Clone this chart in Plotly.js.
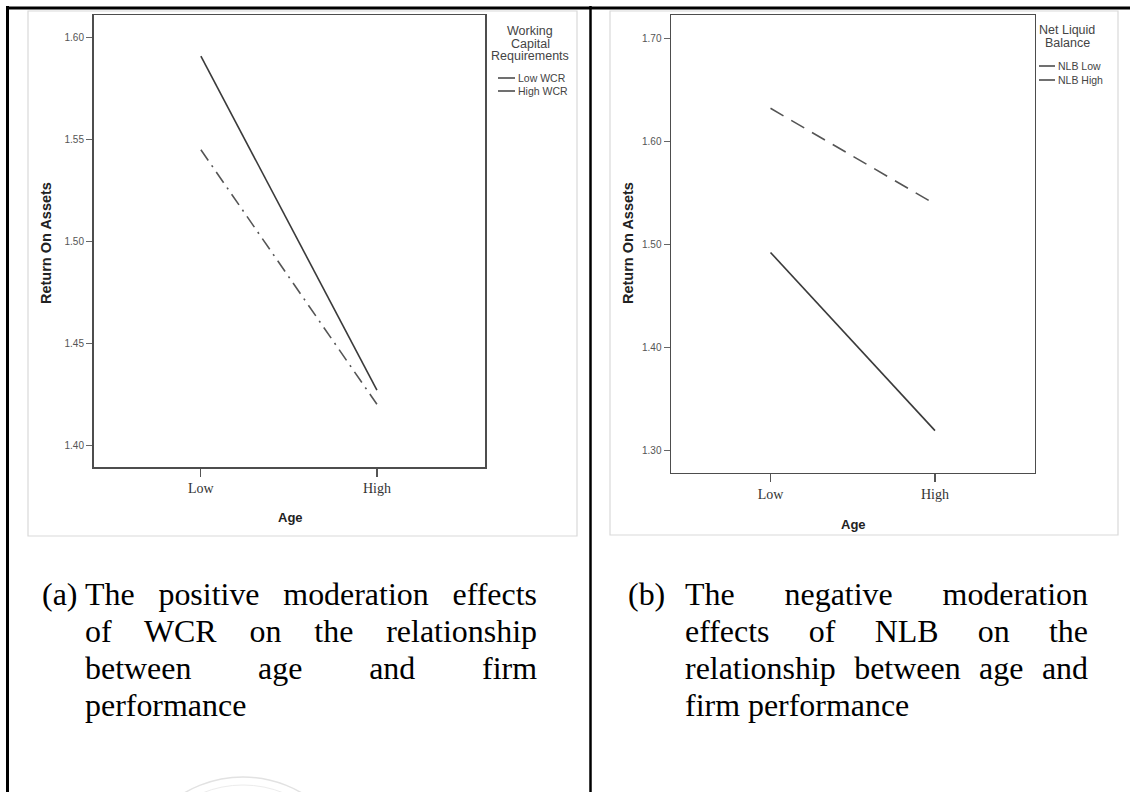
<!DOCTYPE html>
<html>
<head>
<meta charset="utf-8">
<script src="https://cdn.plot.ly/plotly-3.0.1.min.js"></script>
<style>
  html, body { margin: 0; padding: 0; background: #fff; }
  #wrap { position: relative; width: 1130px; height: 792px; overflow: hidden; }
  #chart { position: absolute; left: 0; top: 0; width: 1130px; height: 792px; }
  .cap { position: absolute; font-family: 'Liberation Serif', 'Times New Roman', serif; font-size: 31px; line-height: 37px; color: #000; }
  .cap .ln { transform: scaleX(1.03); transform-origin: left top; white-space: nowrap; }
  .cap .just { text-align: justify; text-align-last: justify; white-space: normal; }
</style>
</head>
<body>
<div id="wrap">
  <div id="chart"></div>
</div>
<script>
// ---------- data ----------
const ageCats = ['Low', 'High'];
const wcrLow = [1.591, 1.427];   // Low WCR
const wcrHigh = [1.545, 1.420];  // High WCR
const nlbLow = [1.492, 1.319];   // NLB Low
const nlbHigh = [1.632, 1.539];  // NLB High
const yTicksA = [1.40, 1.45, 1.50, 1.55, 1.60];
const yTicksB = [1.30, 1.40, 1.50, 1.60, 1.70];
const legendTitleA = ['Working', 'Capital', 'Requirements'];
const legendNamesA = ['Low WCR', 'High WCR'];
const legendTitleB = ['Net Liquid', 'Balance'];
const legendNamesB = ['NLB Low', 'NLB High'];
const yTitle = 'Return On Assets';
const xTitle = 'Age';
const captionA = ['The positive moderation effects', 'of WCR on the relationship', 'between age and firm', 'performance'];
const captionB = ['The negative moderation', 'effects of NLB on the', 'relationship between age and', 'firm performance'];

// ---------- helpers ----------
const W = 1130, H = 792;
const px = x => x / W;
const py = y => 1 - y / H;
const SX = 1.03;

const lineCol = '#3a3a3a';
const traces = [
  {x: ageCats, y: wcrLow, xaxis: 'x', yaxis: 'y', mode: 'lines', line: {color: lineCol, width: 1.6}, hoverinfo: 'skip'},
  {x: ageCats, y: wcrHigh, xaxis: 'x', yaxis: 'y', mode: 'lines', line: {color: '#555', width: 1.6, dash: '13px,6px,2px,6px'}, hoverinfo: 'skip'},
  {x: ageCats, y: nlbLow, xaxis: 'x2', yaxis: 'y2', mode: 'lines', line: {color: lineCol, width: 1.6}, hoverinfo: 'skip'},
  {x: ageCats, y: nlbHigh, xaxis: 'x2', yaxis: 'y2', mode: 'lines', line: {color: '#555', width: 1.6, dash: '15px,9px'}, hoverinfo: 'skip'}
];

const xCommon = {
  type: 'category', showline: true, mirror: true, linecolor: '#4d4d4d', linewidth: 1.5,
  ticks: 'outside', ticklen: 8, tickcolor: '#555', tickwidth: 1.2,
  tickfont: {family: 'Liberation Serif, Times New Roman, serif', size: 14, color: '#333'},
  showgrid: false, zeroline: false, fixedrange: true
};
const yCommon = {
  showline: true, mirror: true, linecolor: '#4d4d4d', linewidth: 1.5,
  ticks: 'outside', ticklen: 6, tickcolor: '#666', tickwidth: 1,
  tickfont: {family: 'Liberation Sans, Arial, sans-serif', size: 10, color: '#555'},
  showgrid: false, zeroline: false, fixedrange: true
};

const layout = {
  width: W, height: H,
  margin: {l: 0, r: 0, t: 0, b: 0},
  paper_bgcolor: '#fff', plot_bgcolor: '#fff',
  showlegend: false,
  xaxis: Object.assign({}, xCommon, {domain: [px(93.5), px(485)], range: [-0.61, 1.614], anchor: 'y'}),
  yaxis: Object.assign({}, yCommon, {domain: [py(467), py(15)], range: [1.3892, 1.6112], tickvals: yTicksA, ticktext: yTicksA.map(v => v.toFixed(2)), anchor: 'x'}),
  xaxis2: Object.assign({}, xCommon, {domain: [px(671), px(1034.5)], range: [-0.605, 1.605], anchor: 'y2'}),
  yaxis2: Object.assign({}, yCommon, {domain: [py(472.7), py(15)], range: [1.2781, 1.7226], tickvals: yTicksB, ticktext: yTicksB.map(v => v.toFixed(2)), anchor: 'x2'}),
  annotations: [],
  shapes: []
};

function ann(text, x, y, opts) {
  layout.annotations.push(Object.assign({
    text: text, xref: 'paper', yref: 'paper', x: px(x), y: py(y),
    showarrow: false, xanchor: 'center', yanchor: 'middle',
    font: {family: 'Liberation Sans, Arial, sans-serif', size: 11, color: '#444'}
  }, opts || {}));
}
function seg(x0, y0, x1, y1, color, width, dash) {
  layout.shapes.push({type: 'line', xref: 'paper', yref: 'paper', x0: px(x0), y0: py(y0), x1: px(x1), y1: py(y1),
    line: {color: color, width: width, dash: dash || 'solid'}});
}
function rect(x0, y0, x1, y1, color, width) {
  layout.shapes.push({type: 'rect', xref: 'paper', yref: 'paper', x0: px(x0), y0: py(y0), x1: px(x1), y1: py(y1),
    line: {color: color, width: width}, fillcolor: 'rgba(0,0,0,0)', layer: 'below'});
}

// image frames
rect(28, 11, 577, 536, '#d9d9d9', 1.2);
rect(610, 11, 1118, 535, '#d9d9d9', 1.2);

// table borders
seg(6, 8, 1130, 8, '#000', 3);
seg(7.5, 6, 7.5, 792, '#000', 3);
seg(590.5, 6, 590.5, 792, '#000', 2.5);

// faint watermark
layout.shapes.push({type: 'circle', xref: 'paper', yref: 'paper', x0: px(243 - 116), x1: px(243 + 116), y0: py(893 + 116), y1: py(893 - 116), line: {color: '#e2e2e2', width: 1.5}});
layout.shapes.push({type: 'circle', xref: 'paper', yref: 'paper', x0: px(243 - 108), x1: px(243 + 108), y0: py(893 + 108), y1: py(893 - 108), line: {color: '#ececec', width: 1}});

// axis titles
const titleFont = {family: 'Liberation Sans, Arial, sans-serif', size: 14.5, color: '#222', weight: 'bold'};
ann('<b>' + yTitle + '</b>', 46, 243, {textangle: -90, font: titleFont});
ann('<b>' + yTitle + '</b>', 628, 243, {textangle: -90, font: titleFont});
ann('<b>' + xTitle + '</b>', 290, 517, {font: Object.assign({}, titleFont, {size: 13})});
ann('<b>' + xTitle + '</b>', 853, 524, {font: Object.assign({}, titleFont, {size: 13})});

// legend (a)
const legFontT = {family: 'Liberation Sans, Arial, sans-serif', size: 12.5, color: '#444'};
const legFontI = {family: 'Liberation Sans, Arial, sans-serif', size: 10.5, color: '#444'};
legendTitleA.forEach((t, i) => ann(t, 530, 31 + i * 12.5, {font: legFontT}));
legendNamesA.forEach((t, i) => {
  const yy = 78 + i * 13;
  seg(498, yy, 515, yy, '#333', 1.4);
  ann(t, 516, yy, {xanchor: 'left', font: legFontI});
});
// legend (b)
legendTitleB.forEach((t, i) => ann(t, 1067, 30 + i * 13, {font: legFontT}));
legendNamesB.forEach((t, i) => {
  const yy = 66 + i * 14;
  seg(1039, yy, 1055, yy, '#333', 1.4);
  ann(t, 1056, yy, {xanchor: 'left', font: legFontI});
});

Plotly.newPlot('chart', traces, layout, {displayModeBar: false, staticPlot: true});

// ---------- captions ----------
function caption(label, lines, labelLeft, textLeft, width, top) {
  const wrap = document.getElementById('wrap');
  const lab = document.createElement('div');
  lab.className = 'cap';
  lab.style.left = labelLeft + 'px';
  lab.style.top = top + 'px';
  lab.innerHTML = '<div class="ln">' + label + '</div>';
  wrap.appendChild(lab);
  const box = document.createElement('div');
  box.className = 'cap';
  box.style.left = textLeft + 'px';
  box.style.top = top + 'px';
  box.style.width = (width / SX) + 'px';
  lines.forEach((l, i) => {
    const d = document.createElement('div');
    d.className = 'ln' + (i < lines.length - 1 ? ' just' : '');
    d.textContent = l;
    box.appendChild(d);
  });
  wrap.appendChild(box);
}
caption('(a)', captionA, 42, 85, 452, 576);
caption('(b)', captionB, 628, 685, 403, 576);
</script>
</body>
</html>
